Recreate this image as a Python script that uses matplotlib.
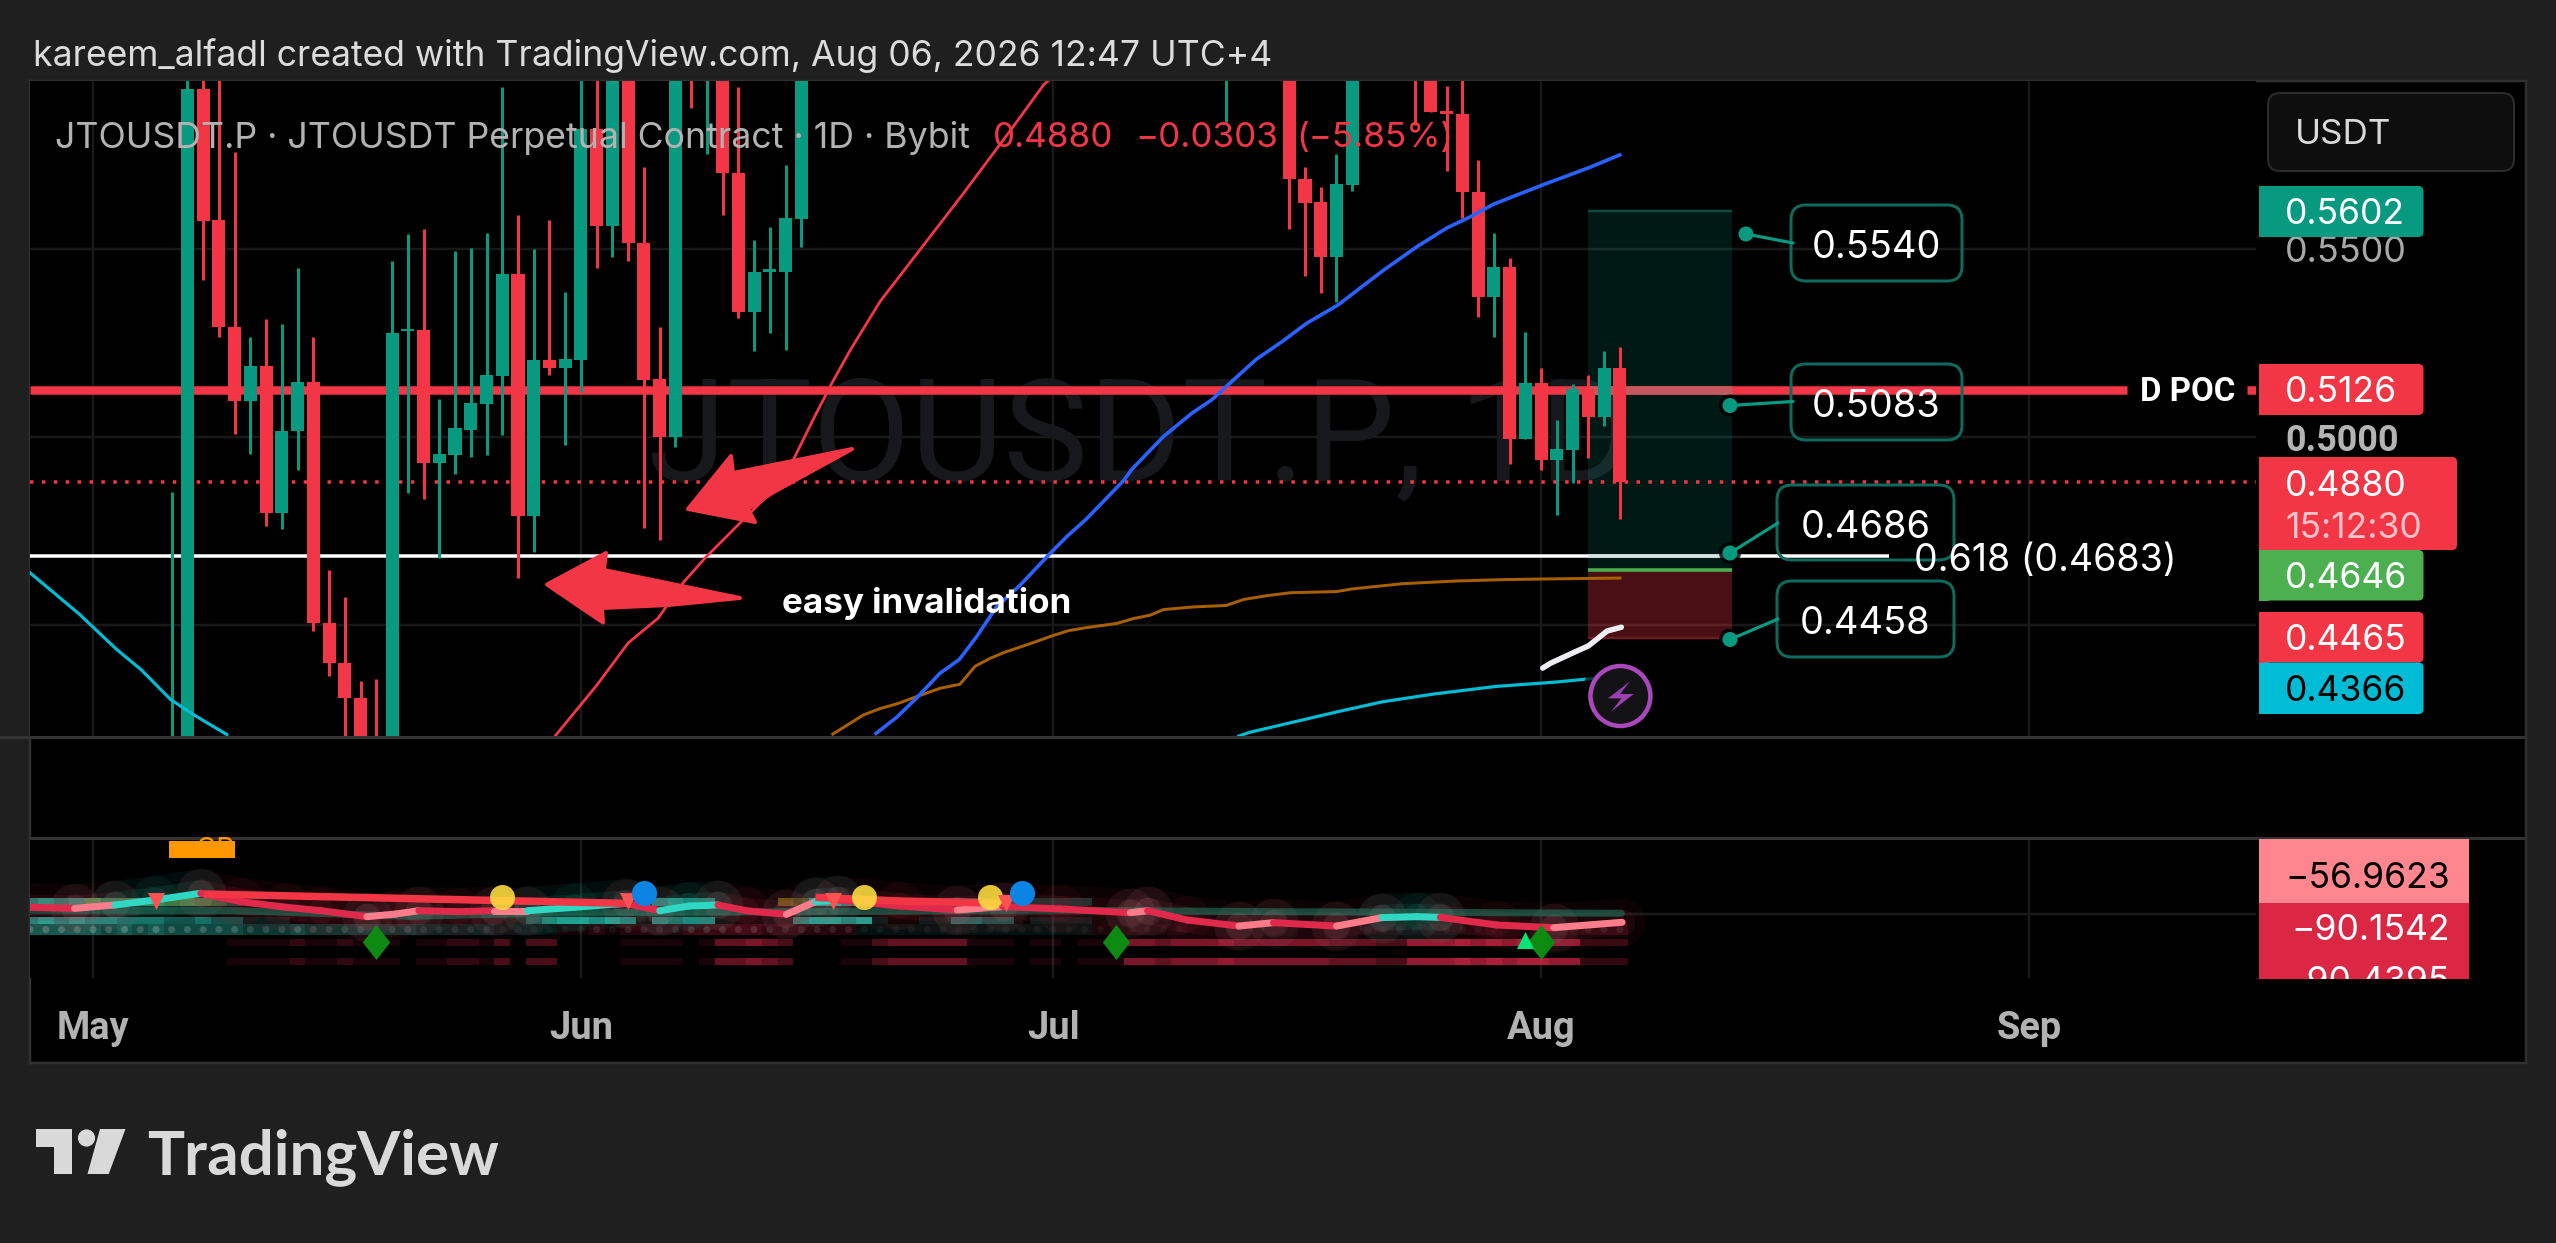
import matplotlib
matplotlib.use("Agg")
import matplotlib.pyplot as plt
from matplotlib.patches import FancyBboxPatch, Rectangle, Polygon, Circle

W, H = 2556, 1243
plt.rcParams['font.family'] = ['Inter', 'Roboto', 'DejaVu Sans']

GREEN, RED = '#089981', '#f23645'
GRID = '#191919'

# ---- candle data (day 0 = May 1) ----
candle_days = [5,6,7,8,9,10,11,12,13,14,15,16,17,18,19,20,21,22,23,24,25,26,27,28,29,30,31,32,33,34,35,36,37,38,39,40,41,42,43,44,45,
               72,76,77,78,79,80,84,85,86,87,88,89,90,91,92,93,94,95,96,97]
opens  = [.40,.41,.5928,.5579,.5294,.5097,.5190,.4797,.5015,.5147,.4503,.4398,.4303,.415,.41,.5282,.5285,.4930,.4951,.5020,.5087,.5162,.5435,.4790,.5205,.5184,.5205,.5820,.5562,.60,.5516,.5154,.5001,.61,.60,.61,.5705,.5334,.5440,.5440,.5582,
          .60,.60,.5687,.5627,.5481,.5672,.61,.60,.5870,.5861,.5653,.5374,.5452,.4995,.5143,.4940,.4966,.5129,.5053,.5184]
highs  = [.4853,.60,.60,.60,.5761,.5267,.5315,.5301,.5450,.5267,.4645,.4574,.4350,.4354,.5469,.5541,.5554,.5100,.5495,.5504,.5543,.5934,.5591,.5501,.5579,.5386,.60,.60,.60,.61,.5719,.5294,.61,.615,.61,.615,.5934,.5525,.5559,.5725,.61,
          .61,.61,.5719,.5666,.5755,.61,.615,.61,.5936,.60,.5739,.5543,.5476,.5280,.5184,.5045,.5142,.5165,.5229,.5240]
lows   = [.39,.40,.5419,.5267,.5007,.4955,.4763,.4755,.4912,.4484,.4362,.41,.40,.40,.40,.4850,.4835,.4678,.4901,.4947,.4951,.5005,.4624,.4693,.5165,.4979,.5119,.5451,.5481,.5469,.4757,.4725,.4974,.5876,.5755,.5591,.5317,.5230,.5276,.5231,.5507,
          .5841,.5554,.5428,.5383,.5361,.5657,.5832,.5867,.5710,.5583,.5319,.5266,.4928,.4995,.4912,.4793,.4878,.4943,.5029,.4782]
closes = [.41,.5928,.5576,.5293,.5097,.5190,.4797,.5016,.5147,.4503,.4398,.4303,.41,.41,.5276,.5286,.4930,.4954,.5024,.5091,.5165,.5435,.4790,.5205,.5184,.5207,.5820,.5562,.60,.5516,.5151,.5001,.60,.60,.605,.5705,.5334,.5440,.5445,.5584,.60,
          .605,.5687,.5625,.5481,.5675,.60,.60,.5867,.5860,.5652,.5374,.5452,.4995,.5143,.4940,.4967,.5129,.5053,.5184,.4880]

# ---- moving averages ----
cyan_a_days = [-4,-0.9,1.5,3.05,4.94,6.5,8.5]
cyan_a_vals = [.4638,.4529,.4434,.4380,.4300,.4257,.4207]
cyan_b_days = [72.8,73.5,79,81.9,85.2,89.1,93,95.2,97]
cyan_b_vals = [.4203,.4213,.4267,.4294,.4315,.4335,.4347,.4356,.4366]
red_ma_days = [29.4,32,34,35.9,37.5,38.9,41.3,43,44.5,45.9,47,48.1,50,55.2,58.3,60.4,62]
red_ma_vals = [.4205,.4338,.4451,.4517,.4612,.4678,.4779,.4850,.4940,.5059,.5148,.5231,.5361,.5644,.5818,.5939,.60]
blue_days = [49.75,51.06,52.2,53.8,55.04,56.14,57.4,58.9,60.7,61.9,63.1,65.5,66,68,69.8,71.07,72.45,73.9,75.6,77.1,79.1,80.5,82,84.1,86,87.5,89,92.1,93.9,95.1,97]
blue_vals = [.4210,.4253,.4299,.4370,.4407,.4468,.4547,.4605,.4685,.4736,.4781,.4885,.4914,.5001,.5063,.5099,.5152,.5207,.5256,.5303,.5352,.5397,.5445,.5507,.5557,.5587,.5621,.5672,.5700,.5719,.5752]
orange_days = [47,48.94,50,51.17,52.33,53.8,55.08,56.04,57,57.84,59.74,61,62,63.13,65.04,66.1,67.16,68,69.9,72,73.1,74.57,76.1,79,80,83.2,86.5,89.7,93,97]
orange_vals = [.4208,.4259,.4276,.4290,.4308,.4330,.4341,.4389,.4410,.4425,.4452,.4471,.4484,.4492,.4503,.4516,.4525,.4540,.4547,.4551,.4567,.4577,.4585,.4588,.4595,.4609,.4616,.4620,.4622,.4624]
white_ma_days = [92.1,92.6,94.2,95,96.2,97.1]
white_ma_vals = [.4384,.4397,.4428,.4443,.4483,.4493]

# ---- levels ----
poc_level, last_price, fib_level = 0.5126, 0.4880, 0.4683
pos_top, pos_mid, pos_bottom = 0.5602, 0.4646, 0.4465
price_ticks = [0.45, 0.50, 0.55]
month_days = [0, 31, 61, 92, 123]
month_labels = ['May', 'Jun', 'Jul', 'Aug', 'Sep']

# ---- oscillator pane ----
osc_days = [-4,-1.17,1.38,3.94,6.85,9.41,12.3,14.5,17.4,19.25,20.7,23.27,25.45,27.6,30.56,33.84,36,37.85,39.7,41.5,44.05,45.9,47.3,
            51.27,54.9,57.8,61.5,65.9,67,69.5,72.8,75,79,81.9,84.1,85.6,89.2,92.8,97.15]
osc_vals = [-44.3,-45.2,-42.3,-38,-32.3,-39.5,-44.3,-47.2,-52.3,-50,-47.2,-48,-47.2,-47.2,-44.3,-40.9,-47.2,-43.2,-42.3,-47.2,-50.3,-39.5,-38,
            -43.2,-46.6,-43.7,-45.7,-48.9,-47.2,-55.1,-60.3,-57.4,-60.3,-53.1,-52.3,-52.9,-59.4,-61.7,-57.1]
osc_state = "rpttrrrrpprrpttrttrrptrrprrprrprpttrrp"
sig_a_days, sig_a_vals = [7.04, 33.84], [-32.9, -40.9]
sig_b_days, sig_b_vals = [45.9, 51.27, 58], [-35.8, -38.9, -40.9]
slow_days = [-4,8.7,20,30,45,59.7,75,97.1]
slow_vals = [-46.6,-47,-52,-49,-48,-46.6,-48,-49.4]
heat_days = list(range(-4, 98))
band_a_teal = [5,6,5,6,6,4,3,4,5,3, 4,3,3,3,0,0,0,0,0,0, 0,0,0,0,0,0,0,0,0,0, 0,0,0,0,0,0,0,0,0,0,
               5,6,5,5,0,0,0,0,0,0, 6,7,5,6,4,3,3,3,3,4, 3,3,2,0,2,2,2,2,0,0, 0,0,0,0,0,0,0,0,0,0, 0,0,0,0,0,0,0,0,0,0, 0,0,0,0,0,0,0,0,0,0, 0,0]
band_a_olive = [0,0,0,0,3,2,3,3,2,3, 3,3,2,0,0,0,0,0,0,0, 0,0,0,0,0,0,0,0,0,0, 0,0,0,0,0,0,0,0,0,0,
                0,0,0,0,0,0,0,0,4,3, 0,0,0,3,0,0,0,0,0,0, 0,0,0,0,0,0,0,0,0,0, 0,0,0,0,0,0,0,0,0,0, 0,0,0,0,0,0,0,0,0,0, 0,0,0,0,0,0,0,0,0,0, 0,0]
band_b_teal = [5,6,5,6,5,5,4,4,4,3, 3,4,3,3,1,1,1,0,0,0, 0,0,0,0,0,0,0,0,0,0, 0,0,3,5,6,6,5,6,5,0,
               5,4,5,5,0,0,0,0,0,5, 6,6,5,6,1,0,0,1,1,4, 4,3,3,0,1,1,1,1,0,0, 0,0,0,0,0,0,0,0,0,0, 0,0,0,0,0,0,0,0,0,0, 0,0,0,0,0,0,0,0,0,0, 0,0]
band_c_mix = [5,5,5,5,5,4,5,4,5,4, 4,4,4,4,3,3,3,4,3,3, 3,3,3,3,3,2,2,2,2,2, 1,1,1,1,-1,-1,-2,-1,-2,-2,
              -2,-2,-3,-3,-3,-3,-3,-2,-2,-2, -2,-2,-2,1,1,1,1,1,1,1, 1,1,1,1,1,1,1,1,-1,-1, -1,-1,-1,-1,0,0,0,0,0,0,
              0,0,0,0,0,-1,-1,-1,-1,-1, -1,-1,-1,-1,0,0,-1,-1,-1,-2, -2,-2]
band_d_red = [0,0,0,0,0,0,0,0,0,0, 0,0,0,1,1,1,1,2,1,1, 2,1,1,1,0,1,1,2,2,1, 3,0,3,3,0,0,0,0,1,1,
              1,1,0,1,4,4,5,4,3,0, 0,0,1,1,3,4,4,4,4,4, 1,1,1,0,1,1,0,1,1,1, 5,5,4,5,5,5,6,5,5,5,
              5,5,5,4,4,4,3,3,6,6, 6,7,6,7,6,7,7,6,6,2, 2,2]
yellow_days, yellow_vals = [26, 49, 57], [-35.2, -35.2, -35.2]
blue_dot_days, blue_dot_vals = [35, 59], [-32.3, -32.3]
tri_days, tri_vals = [4, 34, 47, 58], [-38.9, -38.9, -38.9, -40.9]
diamond_days, diamond_vals = [18, 65, 92], [-74.2, -74.2, -74.2]
up_days, up_vals = [91], [-72.2]

# ---- text ----
header = 'kareem_alfadl created with TradingView.com, Aug 06, 2026 12:47 UTC+4'
legend_text = 'JTOUSDT.P · JTOUSDT Perpetual Contract · 1D · Bybit'
legend_values = ['0.4880', '−0.0303', '(−5.85%)']
watermark = 'JTOUSDT.P, 1D'

XMIN, XMAX = -4.003, 137.42
fig = plt.figure(figsize=(W/100, H/100), dpi=100, facecolor='#1f1f1f')

def axpx(x0, y0, x1, y1, **kw):
    return fig.add_axes([x0/W, 1-y1/H, (x1-x0)/W, (y1-y0)/H], **kw)
def pt(px):
    return px*0.72

# backing chart panel
bg = axpx(30, 81, 2526, 1063, facecolor='black')
bg.set_xticks([]); bg.set_yticks([])
for s in bg.spines.values():
    s.set_color('#303030'); s.set_linewidth(pt(2.5))

ov = axpx(0, 0, W, H, zorder=10)
ov.set_xlim(0, W); ov.set_ylim(H, 0); ov.axis('off'); ov.patch.set_alpha(0)

# ---------- main pane ----------
ax = axpx(30, 81, 2256, 736, facecolor='black', zorder=2)
ax.set_xlim(XMIN, XMAX); ax.set_ylim(0.4203, 0.5949)
for s in ax.spines.values(): s.set_visible(False)
ax.set_xticks(month_days); ax.set_xticklabels([])
ax.tick_params(axis='x', length=0)
ax.yaxis.tick_right()
ax.set_yticks(price_ticks)
ax.set_yticklabels([f'{v:.4f}' for v in price_ticks])
ax.tick_params(axis='y', length=0, pad=pt(29), labelsize=pt(36), labelcolor='#a8a8a8')
for l in ax.get_yticklabels():
    l.set_ha('left')
    if l.get_text() == '0.5000':
        l.set_fontweight('bold'); l.set_family(['Roboto', 'DejaVu Sans']); l.set_color('#b4b4b4')
ax.grid(True, color=GRID, lw=pt(2.5), zorder=0.5)
ax.set_axisbelow(True)

ax.text(1140, 480, watermark, transform=ov.transData, fontsize=pt(143), color='#17181b',
        ha='center', va='baseline', zorder=0.8, clip_on=False, family=['Roboto', 'DejaVu Sans'])

px2d = 1/15.74
poc_end = (2127-93)*px2d
fib_end = (1889-93)*px2d
pos_x0, pos_x1 = (1588-93)*px2d, (1732-93)*px2d

ax.plot([XMIN, poc_end], [poc_level]*2, color=RED, lw=pt(8.5), solid_capstyle='butt', zorder=2)
ax.plot([(2247-93)*px2d, XMAX], [poc_level]*2, color=RED, lw=pt(8.5), solid_capstyle='butt', zorder=2)
ax.plot([XMIN, fib_end], [fib_level]*2, color='white', lw=pt(3.5), solid_capstyle='butt', zorder=2)
ax.plot([XMIN, XMAX], [last_price]*2, color=RED, lw=pt(3.5), ls=(0, (1, 2.4)), zorder=2.7)

ax.fill_between([pos_x0, pos_x1], pos_mid, pos_top, color=GREEN, alpha=0.17, lw=0, zorder=2.3)
ax.fill_between([pos_x0, pos_x1], pos_bottom, pos_mid, color=RED, alpha=0.3, lw=0, zorder=2.3)
ax.plot([pos_x0, pos_x1], [poc_level]*2, color='#c45a5f', lw=pt(8.5), solid_capstyle='butt', zorder=2.4)
ax.plot([pos_x0, pos_x1], [fib_level]*2, color='#d4e2df', lw=pt(3.5), solid_capstyle='butt', zorder=2.4)
ax.plot([pos_x0, pos_x1], [pos_top]*2, color='#0b4a40', lw=pt(2.5), solid_capstyle='butt', zorder=2.4)
ax.plot([pos_x0, pos_x1], [pos_bottom]*2, color='#6e1a20', lw=pt(2.5), solid_capstyle='butt', zorder=2.4)
ax.plot([pos_x0, pos_x1], [pos_mid]*2, color='#4caf50', lw=pt(3.5), solid_capstyle='butt', zorder=2.4)

cols = [GREEN if c >= o else RED for o, c in zip(opens, closes)]
ax.vlines(candle_days, lows, highs, colors=cols, lw=pt(3), zorder=3)
ax.bar(candle_days, [max(abs(c-o), 0.0007) for o, c in zip(opens, closes)],
       bottom=[min(o, c) for o, c in zip(opens, closes)], width=0.83, color=cols, lw=0, zorder=3.1)

ax.plot(red_ma_days, red_ma_vals, color=RED, lw=pt(2.8), zorder=4)
ax.plot(orange_days, orange_vals, color='#a85f00', lw=pt(3), zorder=4)
ax.plot(blue_days, blue_vals, color='#2962ff', lw=pt(3.6), zorder=4)
ax.plot(cyan_a_days, cyan_a_vals, color='#00bcd4', lw=pt(3.2), zorder=4)
ax.plot(cyan_b_days, cyan_b_vals, color='#00bcd4', lw=pt(3.2), zorder=4)
ax.plot(white_ma_days, white_ma_vals, color='#eeeef2', lw=pt(5.5), solid_capstyle='round', zorder=4)

# ---------- oscillator pane ----------
a3 = axpx(30, 838, 2256, 978, facecolor='black', zorder=2)
a3.set_xlim(XMIN, XMAX); a3.set_ylim(-104.7, 14.96)
for s in a3.spines.values(): s.set_visible(False)
a3.set_xticks(month_days); a3.set_xticklabels(month_labels)
a3.set_yticks([-50]); a3.set_yticklabels([])
a3.tick_params(length=0)
a3.tick_params(axis='x', pad=pt(32), labelsize=pt(38), labelcolor='#b2b2b2')
for l in a3.get_xticklabels():
    l.set_family(['Roboto', 'DejaVu Sans']); l.set_fontweight('bold')
a3.grid(True, color=GRID, lw=pt(2.5), zorder=0.5)
a3.set_axisbelow(True)

TEAL, PINK, DRED = '#2ed8c3', '#ff7d8a', '#e0294b'
def rgba(hexc, a):
    return matplotlib.colors.to_rgba(hexc, a)
def band(vals, hexc, top, bottom, k=0.11, z=1.2):
    a3.bar(heat_days, [top-bottom]*len(heat_days), bottom=bottom, width=1.0,
           color=[rgba(hexc, min(abs(v)*k, 1)) for v in vals], lw=0, zorder=z)

band(band_a_teal, TEAL, -36.3, -43.2, k=0.13)
band(band_a_olive, '#b6a000', -36.3, -43.2, k=0.14)
band(band_b_teal, TEAL, -52.6, -58.5, k=0.13)
a3.bar(heat_days, [9.5]*len(heat_days), bottom=-68, width=1.0,
       color=[rgba(TEAL if v > 0 else DRED, abs(v)*0.085) for v in band_c_mix], lw=0, zorder=1.2)
a3.scatter(heat_days, [-63.2]*len(heat_days), s=pt(7)**2, color=[rgba('#c9c9c9', abs(v)*0.06) for v in band_c_mix], lw=0, zorder=1.3)
band(band_d_red, DRED, -71.4, -77.4)
band(band_d_red, DRED, -87.6, -93.6)

state_col = {'r': DRED, 'p': PINK, 't': TEAL}
glow_col = {'r': '#8a2030', 'p': '#8a2030', 't': '#1a8a78'}
a3.plot(slow_days, slow_vals, color='#1d6a55', lw=pt(7), alpha=0.65, zorder=1.6, solid_capstyle='round')
for i, st in enumerate(osc_state):
    xs, ys = osc_days[i:i+2], osc_vals[i:i+2]
    a3.plot(xs, ys, color=glow_col[st], lw=pt(48), alpha=0.09, zorder=1.5, solid_capstyle='round')
    a3.plot(xs, ys, color=glow_col[st], lw=pt(26), alpha=0.14, zorder=1.5, solid_capstyle='round')
    a3.plot(xs, ys, color=state_col[st], lw=pt(7), zorder=2, solid_capstyle='round')
blob_idx = [i for i in range(1, len(osc_state)) if osc_state[i] != osc_state[i-1]]
a3.scatter([osc_days[i] for i in blob_idx], [osc_vals[i] for i in blob_idx], s=pt(50)**2, color='#b8a8a8', alpha=0.06, lw=0, zorder=1.9)
a3.scatter([osc_days[i] for i in blob_idx], [osc_vals[i] for i in blob_idx], s=pt(28)**2, color='#c8b8b8', alpha=0.08, lw=0, zorder=1.9)
a3.plot(sig_a_days, sig_a_vals, color=RED, lw=pt(7.5), solid_capstyle='butt', zorder=2.5)
a3.plot(sig_b_days, sig_b_vals, color=RED, lw=pt(7.5), solid_capstyle='butt', zorder=2.5)

DIAMOND = [(0, 1), (0.78, 0), (0, -1), (-0.78, 0)]
a3.scatter(diamond_days, diamond_vals, s=pt(35)**2, marker=DIAMOND, color='#0d8a12', lw=0, zorder=3, clip_on=False)
a3.scatter(yellow_days, yellow_vals, s=pt(25)**2, color='#ffe040', alpha=0.88, lw=0, zorder=3)
a3.scatter(blue_dot_days, blue_dot_vals, s=pt(25)**2, color='#0c84e4', lw=0, zorder=3.2)
a3.scatter(tri_days, tri_vals, s=pt(17)**2, marker='v', color='#ff5252', lw=0, zorder=3.1)
a3.scatter(up_days, up_vals, s=pt(17)**2, marker='^', color='#00e676', lw=0, zorder=3.1)

# ---------- overlay ----------
def T(x, y, s, size, color='white', ha='center', va='center', weight='normal', family=None, **kw):
    if va == 'center':
        y = y + 3
    d = dict(fontsize=pt(size), color=color, ha=ha, va=va, weight=weight)
    if family: d['family'] = family
    d.update(kw)
    return ov.text(x, y, s, **d)
def rbox(x0, y0, x1, y1, r=6, **kw):
    p = FancyBboxPatch((x0+r, y0+r), x1-x0-2*r, y1-y0-2*r, boxstyle=f'round,pad={r},rounding_size={r}', **kw)
    ov.add_patch(p); return p

ov.add_patch(Rectangle((0, 736), 2526, 2.5, color='#333333', lw=0))
ov.add_patch(Rectangle((30, 837), 2496, 2.5, color='#333333', lw=0))

T(33, 53, header, 35.6, '#dcdcdc', ha='left')
T(55, 135, legend_text, 35.7, '#b2b2b2', ha='left')
T(993, 135, legend_values[0], 35, RED, ha='left')
T(1135, 135, legend_values[1], 35, RED, ha='left')
T(1296, 135, legend_values[2], 35, RED, ha='left')

# USDT button
rbox(2268, 93, 2514, 171, r=12, fc='#0e0e0e', ec='#2c2c2c', lw=pt(2))
T(2295, 132, 'USDT', 35, '#dadada', ha='left')

# right price labels
def plabel(y0, y1, s, fc, tc='white', x1=2423.5):
    rbox(2259, y0, x1, y1, r=5, fc=fc, ec='none', lw=0)
    ov.add_patch(Rectangle((2259, y0), 10, y1-y0, fc=fc, lw=0))
    T(2285, (y0+y1)/2, s, 35.5, tc, ha='left')
plabel(186, 237, '0.5602', GREEN)
plabel(364, 415, '0.5126', RED)
plabel(612, 662.5, '0.4465', RED)
plabel(662.5, 714, '0.4366', '#00bcd4', 'black')
rbox(2259, 457, 2457, 550, r=5, fc=RED, ec='none', lw=0)
ov.add_patch(Rectangle((2259, 457), 10, 93, fc=RED, lw=0))
T(2285, 483, '0.4880', 35.5, 'white', ha='left')
T(2285, 525, '15:12:30', 35.5, '#fbc2c7', ha='left')
plabel(550, 600.5, '0.4646', '#4caf50')

# D POC + fib label
T(2188, 389, 'D POC', 33, 'white', weight='bold', family=['Roboto', 'DejaVu Sans'])
T(1913.5, 558, '0.618 (0.4683)', 37.5, 'white', ha='left')

# risk/reward callouts
DOT = GREEN
callouts = [('0.5540', 1791, 1962, 205, 281, (1746, 234), (1793, 243)),
            ('0.5083', 1791, 1962, 364, 440, (1730, 405.5), (1793, 401.5)),
            ('0.4686', 1777, 1954, 485, 560, (1730, 553), (1778, 523)),
            ('0.4458', 1777, 1954, 581, 657, (1730, 639.5), (1778, 619))]
for s, x0, x1, y0, y1, dot, end in callouts:
    rbox(x0, y0, x1, y1, r=15, fc='none', ec='#0f6a5e', lw=pt(3))
    ov.plot([dot[0], end[0]], [dot[1], end[1]], color=GREEN, lw=pt(3.2), solid_capstyle='round')
    ov.add_patch(Circle(dot, 11, fc='black', ec='none', alpha=0.8))
    ov.add_patch(Circle(dot, 7.5, fc=DOT, ec='none'))
    T((x0+x1)/2, (y0+y1)/2+2, s, 38, 'white')

# hand drawn arrows
ov.add_patch(Polygon([(688,509),(731,456),(733,473),(852,449),(772,493),(748,509),(755,522)], closed=True,
                     fc=RED, ec=RED, lw=pt(4), joinstyle='round'))
ov.add_patch(Polygon([(547,584.5),(606,553),(604,570),(740,598),(669,605),(602,608),(603,622.5)], closed=True,
                     fc=RED, ec=RED, lw=pt(4), joinstyle='round'))
T(782, 600, 'easy invalidation', 35, 'white', ha='left', weight='bold', family=['Inter', 'DejaVu Sans'])

# alert icon
ov.add_patch(Circle((1620.4, 696), 39, fc='black', ec='none', alpha=0.7))
ov.add_patch(Circle((1620.4, 696), 30, fc='#131316', ec='#ab47bc', lw=pt(4.5)))
ov.add_patch(Polygon([(1630,681.4),(1608,698.4),(1621.4,698.4),(1611,711.8),(1633.7,694),(1620,694)], closed=True, fc='#9c40b4', ec='none'))

# orange OB tag
T(235, 864, 'OB', 28, '#ff9800', ha='right', va='bottom')
ov.add_patch(Rectangle((169, 841), 66, 17, fc='#ff9800', lw=0))

# oscillator labels
clip = Rectangle((2259, 839), 210, 140, transform=ov.transData)
ov.add_patch(Rectangle((2259, 839), 210, 64, fc='#ff868f', lw=0))
ov.add_patch(Rectangle((2259, 903), 210, 76, fc='#dc2744', lw=0))
for y, s, c in [(825, '−55.7623', 'black'), (875, '−56.9623', 'black'), (927, '−90.1542', 'white'), (979, '−90.4395', 'white')]:
    t = T(2450, y, s, 35.5, c, ha='right', clip_on=True)
    t.set_clip_path(clip)

# TradingView logo
ov.add_patch(Polygon([(36,1129),(72,1129),(72,1174),(54,1174),(54,1147),(36,1147)], closed=True, fc='#d9d9d9', lw=0))
ov.add_patch(Circle((86.5,1138), 8.6, fc='#d9d9d9', lw=0))
ov.add_patch(Polygon([(100,1129),(125.5,1129),(108.7,1174),(87.5,1174)], closed=True, fc='#d9d9d9', lw=0))
T(147, 1174, 'TradingView', 62, '#d9d9d9', ha='left', va='baseline', weight='bold', family=['Lato', 'DejaVu Sans'])

fig.savefig('out.png', dpi=100, facecolor=fig.get_facecolor())
